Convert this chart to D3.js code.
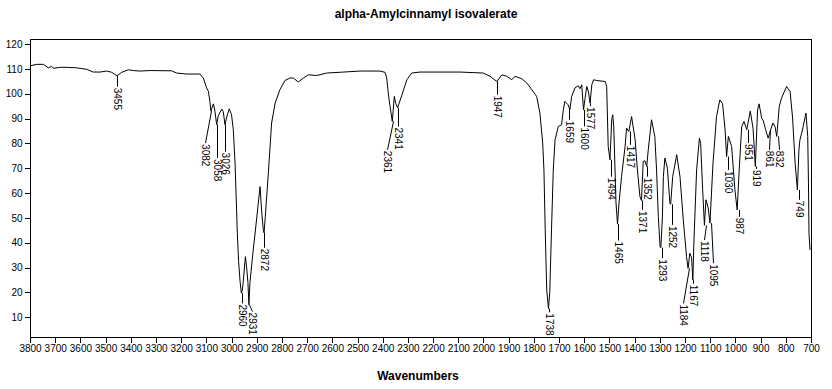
<!DOCTYPE html>
<html>
<head>
<meta charset="utf-8">
<script src="https://cdn.jsdelivr.net/npm/d3@7"></script>
<style>
  body { margin: 0; background: #fff; }
  .tick text { font-family: "Liberation Sans Narrow", "Liberation Sans", Arial, sans-serif; font-size: 10px; fill: #000; }
  .peak { font-family: "Liberation Sans Narrow", "Liberation Sans", Arial, sans-serif; font-size: 10px; fill: #000; }
</style>
</head>
<body>
<div id="chart"></div>
<script>
// spectrum, wavenumber (cm-1) and transmittance (%)
var wavenumbers = [3800,3773,3747,3727,3714,3707,3680,3654,3615,3575,3549,3522,3496,3476,3455,3436,3410,3390,3363,3324,3238,3218,3178,3125,3112,3099,3092,3086,3082,3077,3072,3066,3059,3053,3039,3033,3026,3018,3009,3000,2993,2986,2980,2977,2972,2966,2961,2957,2953,2945,2940,2935,2931,2927,2914,2900,2887,2880,2874,2871,2866,2854,2841,2827,2808,2788,2768,2755,2735,2715,2695,2662,2622,2556,2490,2411,2391,2384,2378,2371,2362,2354,2348,2341,2324,2304,2285,2252,2093,2001,1974,1947,1927,1908,1888,1875,1848,1828,1808,1789,1776,1765,1760,1755,1749,1742,1737,1730,1723,1716,1703,1690,1683,1677,1664,1657,1650,1637,1624,1617,1610,1603,1597,1590,1584,1577,1570,1563,1550,1517,1511,1505,1498,1491,1487,1483,1474,1468,1462,1452,1438,1432,1423,1412,1398,1389,1379,1373,1366,1359,1352,1346,1333,1320,1313,1306,1299,1296,1290,1286,1280,1270,1260,1257,1249,1233,1220,1207,1194,1188,1181,1174,1169,1165,1154,1143,1138,1130,1123,1117,1108,1101,1089,1075,1062,1051,1041,1035,1028,1022,1015,1002,993,985,975,966,955,941,930,921,912,906,896,889,880,870,860,851,843,836,826,817,797,783,773,763,754,748,744,737,731,720,713,710,708,704]
var transmittance = [111.2,111.8,111.8,110.4,111.0,110.2,110.6,110.6,110.4,109.8,108.7,108.7,109.1,108.6,107.2,108.6,109.6,109.3,109.1,109.3,109.2,108.3,107.9,107.9,106.3,102.3,101.0,96.9,93.0,94.5,95.9,93.0,87.5,91.0,93.8,92.8,87.5,91.0,93.9,91.5,85.5,72.0,53.2,43.8,32.4,24.3,19.7,21.0,25.0,34.4,30.0,24.0,15.0,24.0,37.0,50.0,62.6,52.0,45.2,44.0,50.5,68.0,88.2,96.2,101.6,105.3,106.3,106.3,104.7,106.3,107.6,107.3,108.3,108.7,109.1,109.1,108.6,106.3,100.2,94.9,88.8,98.9,96.0,94.3,99.4,105.6,108.3,108.7,108.7,108.3,107.0,104.9,107.6,107.0,105.6,107.0,106.0,104.3,101.6,98.9,92.2,80.1,69.3,45.2,21.0,13.5,20.0,45.2,69.3,81.4,86.8,87.5,93.5,96.9,95.5,93.5,98.9,102.3,103.2,102.0,103.6,93.5,98.0,102.9,101.0,96.2,103.6,105.6,105.3,104.9,102.9,78.8,73.4,89.5,91.5,86.8,56.0,47.5,56.0,66.6,78.7,86.1,84.8,90.8,81.4,69.3,58.6,57.0,72.7,73.0,70.7,77.4,89.5,82.8,69.3,50.5,38.4,38.0,50.0,66.6,74.1,70.0,55.9,55.5,66.6,75.4,66.6,49.2,34.4,29.7,35.8,34.0,25.0,39.8,69.3,82.1,80.0,61.3,47.0,57.3,54.0,47.9,72.0,90.8,97.5,96.0,85.5,74.7,82.8,81.0,78.7,61.3,53.2,69.3,86.8,88.8,85.5,93.0,86.0,70.7,93.5,95.9,90.2,89.0,85.5,82.1,85.5,88.2,86.8,82.8,94.9,98.2,102.9,100.9,90.2,72.0,61.3,77.4,81.4,84.1,86.8,92.2,82.8,64.0,43.8,37.1]

// peak labels: printed value, where the text hangs (wavenumber) and the level the text starts at (%T)
var peakLabels = [3455,3082,3058,3026,2960,2931,2872,2361,2341,1947,1738,1659,1600,1577,1494,1465,1417,1371,1352,1293,1252,1184,1167,1118,1095,1030,987,951,919,861,832,749]
var peakTextAt = [3455,3105,3058,3026,2960,2917,2872,2384,2341,1947,1738,1659,1600,1577,1494,1465,1417,1371,1352,1293,1252,1210,1167,1125,1089,1030,987,951,919,866,826,749]
var peakTextLevel = [102.8,80.1,74.1,76.7,15.6,12.3,38.0,77.4,86.8,99.6,12.0,89.5,86.8,95.0,66.6,40.9,79.4,53.2,66.6,33.8,47.2,15.6,23.5,41.1,31.8,69.3,50.5,80.1,69.7,77.4,77.4,57.3]

var xTicks = d3.range(3800, 699, -100)
var yTicks = d3.range(10, 121, 10)

var width = 832, height = 389

var svg = d3.select("#chart")
  .append("svg")
    .attr("width", width)
    .attr("height", height)

var x = d3.scaleLinear().domain([3800, 700]).range([30, 811])
var y = d3.scaleLinear().domain([2, 122]).range([337.2, 39])

// axes
svg.append("g")
  .attr("transform", "translate(0,337.5)")
  .call(d3.axisBottom(x).tickValues(xTicks).tickSize(5).tickPadding(2).tickFormat(d3.format("d")))
  .call(function(g) { g.select(".domain").remove() })
  .selectAll("line").attr("stroke", "#000").attr("shape-rendering", "crispEdges")

svg.append("g")
  .attr("transform", "translate(30.5,0)")
  .call(d3.axisLeft(y).tickValues(yTicks).tickSize(6).tickPadding(2))
  .call(function(g) { g.select(".domain").remove() })
  .selectAll("line").attr("stroke", "#000").attr("shape-rendering", "crispEdges")

// frame
svg.append("rect")
  .attr("x", 30.5).attr("y", 39.5)
  .attr("width", 780.5).attr("height", 298)
  .attr("fill", "none")
  .attr("stroke", "#000")
  .attr("shape-rendering", "crispEdges")

// spectrum
var points = wavenumbers.map(function(w, i) { return [w, transmittance[i]] })

var line = d3.line()
  .x(function(d) { return x(d[0]) })
  .y(function(d) { return y(d[1]) })

svg.append("path")
  .datum(points)
  .attr("d", line)
  .attr("fill", "none")
  .attr("stroke", "#000")
  .attr("stroke-width", 1)

// curve value at a wavenumber, for the top of each leader
var ascending = points.slice().reverse()
var interp = function(w) {
  var i = d3.bisector(function(d) { return d[0] }).left(ascending, w)
  if (i <= 0) return ascending[0][1]
  if (i >= ascending.length) return ascending[ascending.length - 1][1]
  var a = ascending[i - 1], b = ascending[i]
  return a[1] + (b[1] - a[1]) * (w - a[0]) / (b[0] - a[0])
}
var curveMin = function(w) {
  // lowest sampled point near the label, so the leader touches the dip
  var near = points.filter(function(d) { return Math.abs(d[0] - w) <= 7 })
  return near.length ? d3.min(near, function(d) { return d[1] }) : interp(w)
}

var peaks = svg.append("g")
peakLabels.forEach(function(p, i) {
  var top = curveMin(p)
  var x0 = Math.round(x(p)) + 0.5
  var x1 = Math.round(x(peakTextAt[i])) + 0.5
  var yText = y(peakTextLevel[i])
  peaks.append("line")
    .attr("x1", x0).attr("y1", y(top))
    .attr("x2", x1).attr("y2", yText)
    .attr("stroke", "#000")
  peaks.append("text")
    .attr("class", "peak")
    .attr("transform", "translate(" + x1 + "," + (yText + 1) + ") rotate(90)")
    .attr("dy", "0.35em")
    .text(p)
})

// titles
svg.append("text")
  .attr("x", 426).attr("y", 18)
  .attr("text-anchor", "middle")
  .style("font-family", "Arial, 'Liberation Sans', sans-serif")
  .style("font-size", "12px")
  .style("font-weight", "bold")
  .text("alpha-Amylcinnamyl isovalerate")

svg.append("text")
  .attr("x", 418).attr("y", 380)
  .attr("text-anchor", "middle")
  .style("font-family", "Arial, 'Liberation Sans', sans-serif")
  .style("font-size", "12px")
  .style("font-weight", "bold")
  .text("Wavenumbers")
</script>
</body>
</html>
